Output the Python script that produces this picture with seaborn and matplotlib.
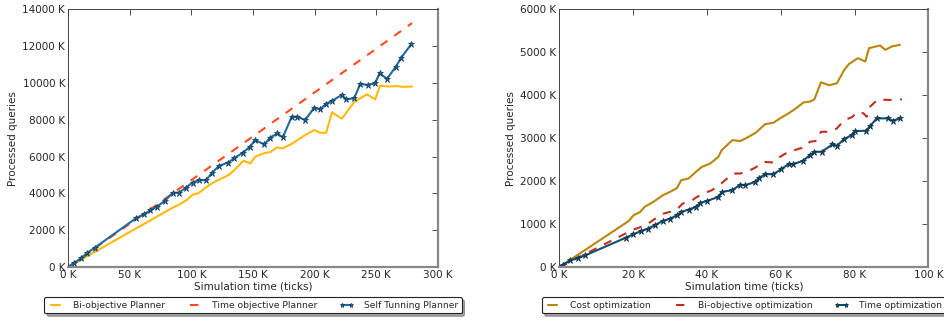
import numpy as np
import pandas as pd
import matplotlib
matplotlib.use("Agg")
import matplotlib.pyplot as plt
import matplotlib.ticker as mticker
import seaborn as sns

# values in thousands (K)
# left panel
bi_x = [0, 50, 85, 90.7, 96, 101, 106, 112.4, 117.8, 124.6, 130.8, 136.2, 142.2, 148, 151.6,
        158.4, 164.4, 169.2, 174, 182, 192.3, 199.6, 204.4, 209.3, 214, 222, 232, 237, 242.4,
        249, 253, 260, 266.7, 272, 279]
bi_y = [0, 1900, 3230, 3410, 3630, 3920, 4025, 4350, 4590, 4805, 5020, 5350, 5770, 5620, 5985,
        6165, 6255, 6490, 6440, 6710, 7165, 7435, 7290, 7290, 8400, 8050, 8950, 9160, 9375,
        9100, 9840, 9800, 9820, 9775, 9800]

time_x = [0, 66, 100, 150, 200, 250, 279]
time_y = [0, 3100, 4720, 7090, 9480, 11850, 13240]

self_x = [0, 4.6, 10.8, 15.7, 21.7, 55.5, 61.5, 66.9, 71.8, 78.5, 84.8, 90.2, 95.6, 101, 106,
          111.8, 117, 122.4, 130, 134.8, 141.6, 147.6, 151.6, 159.2, 163.8, 169.8, 174.1, 181.4,
          186, 192.3, 199.6, 204.4, 209, 213.9, 222, 225.3, 232, 237, 243, 249, 252.6, 258.6,
          265.9, 270.2, 278.4]
self_y = [0, 218, 490, 780, 1050, 2670, 2865, 3080, 3265, 3590, 4025, 4045, 4315, 4590, 4715,
          4715, 5130, 5495, 5675, 5910, 6200, 6530, 6890, 6655, 7020, 7255, 7035, 8160,
          8160, 7980, 8650, 8560, 8850, 9015, 9340, 9100, 9160, 9940, 9880, 9975, 10520, 10210,
          10880, 11370, 12100]

# right panel
cost_x = [0, 18.8, 20.1, 21.9, 23.1, 25.7, 28, 30, 31.9, 33, 35, 37, 38.6, 40.9, 43.1, 44,
          46.9, 49, 51.3, 53.2, 55.8, 58, 59.8, 62.1, 64.1, 66.2, 67.9, 69.1, 70.9, 73.1, 75.2,
          77.2, 78.5, 80.9, 82.9, 83.9, 86.9, 88.3, 90.1, 92.3]
cost_y = [0, 1072, 1205, 1282, 1400, 1530, 1670, 1750, 1840, 2020, 2060, 2215, 2330, 2410,
          2565, 2720, 2953, 2930, 3030, 3125, 3325, 3357, 3458, 3575, 3690, 3830, 3847, 3900,
          4298, 4228, 4275, 4585, 4725, 4857, 4780, 5090, 5153, 5052, 5130, 5168]

biopt_x = [0, 20, 23.3, 26, 28.2, 30.5, 32.1, 33.4, 35.6, 37.3, 39.5, 41.3, 43.1, 44.9, 47.2,
           49, 51.3, 53, 55.3, 58, 59.8, 62.1, 64.6, 66.6, 67.9, 69.8, 70.9, 73.4, 75.2, 77.2,
           79.2, 81, 82.4, 83.3, 84.2, 86.3, 89.2, 92.8]
biopt_y = [0, 870, 970, 1127, 1243, 1298, 1360, 1477, 1530, 1632, 1725, 1788, 1888, 2020,
           2176, 2176, 2238, 2308, 2448, 2432, 2565, 2681, 2743, 2798, 2914, 2937, 3147, 3147,
           3225, 3420, 3482, 3614, 3575, 3497, 3730, 3900, 3886, 3900]

topt_x = [0, 0.9, 3, 5.1, 7, 18, 20, 22, 24, 25.8, 28, 30, 31.9, 33, 35, 37, 38.2, 40, 43.1,
          44, 46.9, 49, 50.4, 53.1, 54.1, 55.8, 58, 60.1, 62.1, 63.3, 66, 67.9, 69.1, 71.1, 74,
          75.2, 77.2, 79.2, 80.1, 83.1, 84.2, 86, 89, 90.3, 92.3]
topt_y = [0, 54, 155, 218, 272, 684, 762, 832, 894, 971, 1073, 1127, 1205, 1282, 1337, 1400,
          1492, 1539, 1632, 1749, 1787, 1920, 1904, 1982, 2075, 2160, 2160, 2277, 2394, 2394,
          2471, 2604, 2681, 2681, 2852, 2821, 2977, 3070, 3163, 3171, 3280, 3458, 3458, 3404,
          3458]

sns.set_style("white")
plt.rcParams['font.family'] = ['DejaVu Sans']

fig = plt.figure(figsize=(9.44, 3.23), dpi=100)
ax1 = fig.add_axes([0.072, 0.173, 0.392, 0.799])
ax2 = fig.add_axes([0.5925, 0.173, 0.391, 0.799])

k_fmt = mticker.FuncFormatter(lambda v, p: "%d K" % v)


def style_axes(ax, xmax, ymax, xstep, ystep):
    ax.set_xlim(0, xmax)
    ax.set_ylim(0, ymax)
    ax.set_xticks(np.arange(0, xmax + 1, xstep))
    ax.set_yticks(np.arange(0, ymax + 1, ystep))
    ax.xaxis.set_major_formatter(k_fmt)
    ax.yaxis.set_major_formatter(k_fmt)
    ax.tick_params(direction="in", length=4, width=0.6, top=True, right=True,
                   labelsize=7.5, pad=2, color="#333333")
    ax.set_xlabel("Simulation time (ticks)", fontsize=7.5, labelpad=1)
    ax.set_ylabel("Processed queries", fontsize=7.5, labelpad=3)
    for s in ["left", "top"]:
        ax.spines[s].set_color("#444444")
        ax.spines[s].set_linewidth(0.7)
    for s in ["right", "bottom"]:
        ax.spines[s].set_color("#888888")
        ax.spines[s].set_linewidth(1.6)


sns.lineplot(x=bi_x, y=bi_y, ax=ax1, color="#ffb90a", lw=1.5, label="Bi-objective Planner")
sns.lineplot(x=time_x, y=time_y, ax=ax1, color="#ff4a1c", lw=1.5, dashes=False,
             linestyle=(0, (4, 4)), label="Time objective Planner")
sns.lineplot(x=self_x, y=self_y, ax=ax1, color="#1f6aa0", lw=1.5, marker="*", markersize=4.5,
             markeredgecolor="#0e3a5a", markeredgewidth=0.5, label="Self Tunning Planner")
style_axes(ax1, 300, 14000, 50, 2000)

sns.lineplot(x=cost_x, y=cost_y, ax=ax2, color="#b8860b", lw=1.5, label="Cost optimization")
sns.lineplot(x=biopt_x, y=biopt_y, ax=ax2, color="#c0301c", lw=1.5, dashes=False,
             linestyle=(0, (4, 4)), label="Bi-objective optimization")
sns.lineplot(x=topt_x, y=topt_y, ax=ax2, color="#134e72", lw=1.5, marker="*", markersize=4.5,
             markeredgecolor="#0b2f48", markeredgewidth=0.5, label="Time optimization")
style_axes(ax2, 100, 6000, 20, 1000)

for ax in (ax1, ax2):
    lines = [l for l in ax.get_lines() if not l.get_label().startswith("_")]
    labels = [l.get_label() for l in lines]
    leg = ax.legend(lines, labels, loc="center", bbox_to_anchor=(0.5, -0.148), ncol=3,
                    fontsize=6.6, frameon=True, fancybox=True, shadow=True, handlelength=1.6,
                    columnspacing=2.4, borderpad=0.4, handletextpad=1.1, numpoints=2,
                    markerscale=0.8)
    leg.get_frame().set_edgecolor("#222222")
    leg.get_frame().set_linewidth(0.8)

fig.savefig("out.png", dpi=100)
